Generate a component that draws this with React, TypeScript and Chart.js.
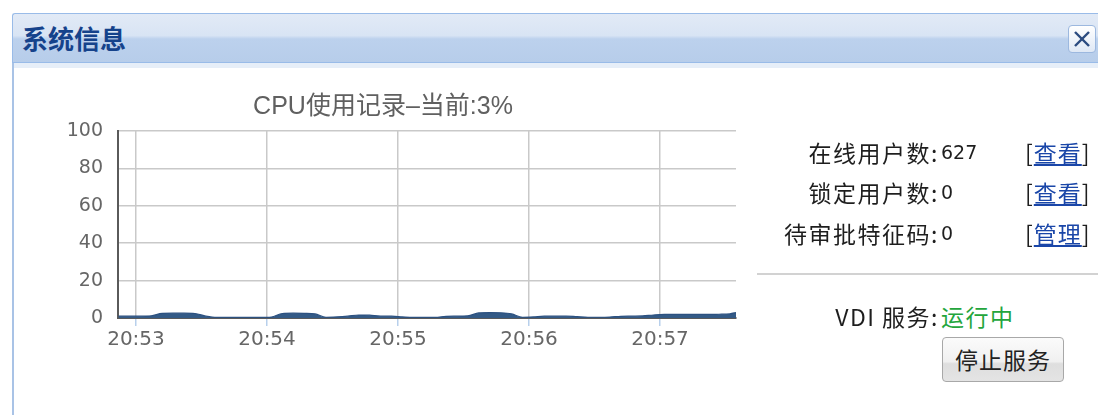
import React, { useEffect, useRef } from "react";
import { Chart, registerables } from "chart.js";

Chart.register(...registerables);

const chartTitle = "CPU使用记录–当前:3%";
const sampleTimes = [
  "20:52:52", "20:52:57",
  "20:53:02", "20:53:07", "20:53:12", "20:53:17", "20:53:22", "20:53:27",
  "20:53:32", "20:53:37", "20:53:42", "20:53:47", "20:53:52", "20:53:57",
  "20:54:02", "20:54:07", "20:54:12", "20:54:17", "20:54:22", "20:54:27",
  "20:54:32", "20:54:37", "20:54:42", "20:54:47", "20:54:52", "20:54:57",
  "20:55:02", "20:55:07", "20:55:12", "20:55:17", "20:55:22", "20:55:27",
  "20:55:32", "20:55:37", "20:55:42", "20:55:47", "20:55:52", "20:55:57",
  "20:56:02", "20:56:07", "20:56:12", "20:56:17", "20:56:22", "20:56:27",
  "20:56:32", "20:56:37", "20:56:42", "20:56:47", "20:56:52", "20:56:57",
  "20:57:02", "20:57:07", "20:57:12", "20:57:17", "20:57:22", "20:57:27",
  "20:57:32", "20:57:35",
];
const cpuValues = [
  1.0, 1.0,
  1.0, 1.2, 2.5, 2.6, 2.6, 2.4, 1.0, 0.3, 0.3, 0.3, 0.3, 0.3,
  0.5, 2.4, 2.6, 2.5, 2.2, 0.4, 0.6, 1.0, 1.6, 1.5, 1.0, 1.0,
  0.6, 0.3, 0.3, 0.3, 0.9, 1.0, 1.2, 2.7, 2.9, 2.8, 2.2, 0.4,
  0.6, 1.0, 1.0, 1.0, 0.7, 0.4, 0.4, 0.5, 0.9, 1.0, 1.1, 1.6,
  1.9, 1.9, 1.9, 1.9, 1.9, 2.0, 2.2, 3.0,
];
const xTickLabels = ["20:53", "20:54", "20:55", "20:56", "20:57"];
const yTicks = [0, 20, 40, 60, 80, 100];
const axisStart = "20:52:51.76";
const axisEnd = "20:57:34.8";

const infoRows = [
  { label: "在线用户数:", value: "627", link: "查看" },
  { label: "锁定用户数:", value: "0", link: "查看" },
  { label: "待审批特征码:", value: "0", link: "管理" },
];

const BASE = 20 * 3600 + 53 * 60;
function toSec(s: string): number {
  const p = s.split(":").map(Number);
  return p[0] * 3600 + p[1] * 60 + (p[2] || 0) - BASE;
}
function fmt(v: number): string {
  const total = Math.round(v) + BASE;
  const h = Math.floor(total / 3600);
  const m = Math.floor((total % 3600) / 60);
  return `${h}:${String(m).padStart(2, "0")}`;
}

const CJK = '"Noto Sans CJK SC", "Liberation Sans", sans-serif';

function CpuChart() {
  const ref = useRef<HTMLCanvasElement | null>(null);
  useEffect(() => {
    if (!ref.current) return;
    const data = sampleTimes.map((t, i) => ({ x: toSec(t), y: cpuValues[i] }));
    const chart = new Chart(ref.current, {
      type: "line",
      data: {
        datasets: [
          {
            data,
            fill: "origin",
            backgroundColor: "#335a86",
            borderColor: "#2c5180",
            borderWidth: 1.2,
            pointRadius: 0,
            tension: 0.4,
            cubicInterpolationMode: "monotone",
          },
        ],
      },
      options: {
        animation: false,
        responsive: true,
        maintainAspectRatio: false,
        layout: { padding: { left: 0, right: 6, top: 0, bottom: 0 } },
        plugins: {
          legend: { display: false },
          tooltip: { enabled: false },
          title: {
            display: true,
            text: chartTitle,
            color: "#606060",
            font: { family: '"Liberation Sans", "Noto Sans CJK SC", sans-serif', size: 25, weight: "normal" },
            padding: { top: 9, bottom: 9 },
          },
        },
        scales: {
          x: {
            type: "linear",
            min: toSec(axisStart),
            max: toSec(axisEnd),
            afterBuildTicks: (scale: any) => {
              scale.ticks = xTickLabels.map((l) => ({ value: toSec(l) }));
            },
            afterFit: (scale: any) => {
              scale.height = 45;
            },
            grid: {
              color: "#c9c9c9",
              lineWidth: 1.5,
              tickColor: "#b8d0ec",
              tickLength: 8,
              drawTicks: true,
            },
            border: { color: "#5a5a5a", width: 2 },
            ticks: {
              color: "#666",
              padding: 2,
              maxRotation: 0,
              font: { family: '"DejaVu Sans", sans-serif', size: 20 },
              callback: (v: any) => fmt(Number(v)),
            },
          },
          y: {
            min: 0,
            max: 100,
            afterBuildTicks: (scale: any) => {
              scale.ticks = yTicks.map((v) => ({ value: v }));
            },
            afterFit: (scale: any) => {
              scale.width = 88;
            },
            grid: { color: "#c9c9c9", lineWidth: 1.5, drawTicks: false },
            border: { color: "#5a5a5a", width: 2 },
            ticks: {
              color: "#666",
              padding: 15,
              font: { family: '"DejaVu Sans", sans-serif', size: 19 },
            },
          },
        },
      },
    });
    return () => chart.destroy();
  }, []);
  return (
    <div style={{ position: "absolute", left: 30, top: 83, width: 712, height: 280 }}>
      <canvas ref={ref} />
    </div>
  );
}

export default function App() {
  const textStyle: React.CSSProperties = {
    fontFamily: CJK,
    fontSize: 23,
    letterSpacing: 1.5,
    color: "#1e1e1e",
    lineHeight: "30px",
    position: "absolute",
    whiteSpace: "nowrap",
  };
  const rowCenters = [152, 192, 233];
  return (
    <div style={{ position: "absolute", left: 0, top: 0, width: 1098, height: 415, background: "#fff", overflow: "hidden" }}>
      {/* header */}
      <div
        style={{
          position: "absolute",
          left: 12,
          top: 13,
          width: 1100,
          height: 48,
          borderTop: "1px solid #99bbe8",
          borderLeft: "1px solid #99bbe8",
          borderBottom: "2px solid #99bbe8",
          borderTopLeftRadius: 3,
          background: "linear-gradient(to bottom, #e2eaf6 0%, #d8e4f4 45%, #bcd1ed 52%, #b7cdea 100%)",
        }}
      >
        <div
          style={{
            position: "absolute",
            left: 9,
            top: 0,
            height: 48,
            lineHeight: "48px",
            fontFamily: CJK,
            fontWeight: 700,
            fontSize: 26,
            color: "#15428b",
          }}
        >
          系统信息
        </div>
      </div>
      {/* close button */}
      <div
        style={{
          position: "absolute",
          left: 1068,
          top: 25,
          width: 26,
          height: 26,
          border: "1px solid #9cb8df",
          borderRadius: 4,
          background: "linear-gradient(to bottom, #ffffff, #dfe8f5)",
        }}
      >
        <svg width="26" height="26" style={{ position: "absolute", left: 0, top: 0 }}>
          <line x1="6" y1="6" x2="20" y2="20" stroke="#2b4b80" strokeWidth="2.4" />
          <line x1="20" y1="6" x2="6" y2="20" stroke="#2b4b80" strokeWidth="2.4" />
        </svg>
      </div>
      {/* body */}
      <div style={{ position: "absolute", left: 12, top: 63, width: 1090, height: 5, background: "#e6eef8" }} />
      <div style={{ position: "absolute", left: 12, top: 63, width: 2, height: 360, background: "#a9c3e6" }} />

      <CpuChart />

      {/* info rows */}
      {infoRows.map((r, i) => (
        <React.Fragment key={i}>
          <div style={{ ...textStyle, left: 700, width: 239, textAlign: "right", top: rowCenters[i] - 15 }}>{r.label}</div>
          <div style={{ ...textStyle, left: 941, top: rowCenters[i] - 15, fontFamily: '"DejaVu Sans", sans-serif', fontSize: 19, letterSpacing: 0 }}>
            {r.value}
          </div>
          <div style={{ ...textStyle, left: 1025, top: rowCenters[i] - 15, letterSpacing: 1 }}>
            [<span style={{ color: "#1a46a8", textDecoration: "underline" }}>{r.link}</span>]
          </div>
        </React.Fragment>
      ))}
      <div style={{ position: "absolute", left: 757, top: 273, width: 341, height: 2, background: "#d2d2d2" }} />
      <div style={{ ...textStyle, left: 700, width: 239, textAlign: "right", top: 301 }}>VDI 服务:</div>
      <div style={{ ...textStyle, left: 941, top: 301, color: "#23a53c" }}>运行中</div>
      <div
        style={{
          position: "absolute",
          left: 942,
          top: 337,
          width: 120,
          height: 43,
          border: "1px solid #a8a8a8",
          borderRadius: 4,
          background: "linear-gradient(to bottom, #fbfbfb 0%, #f0f0f0 55%, #dedede 60%, #e4e4e4 100%)",
          fontFamily: CJK,
          fontSize: 23,
          letterSpacing: 1,
          color: "#222",
          textAlign: "center",
          lineHeight: "43px",
        }}
      >
        停止服务
      </div>
    </div>
  );
}
